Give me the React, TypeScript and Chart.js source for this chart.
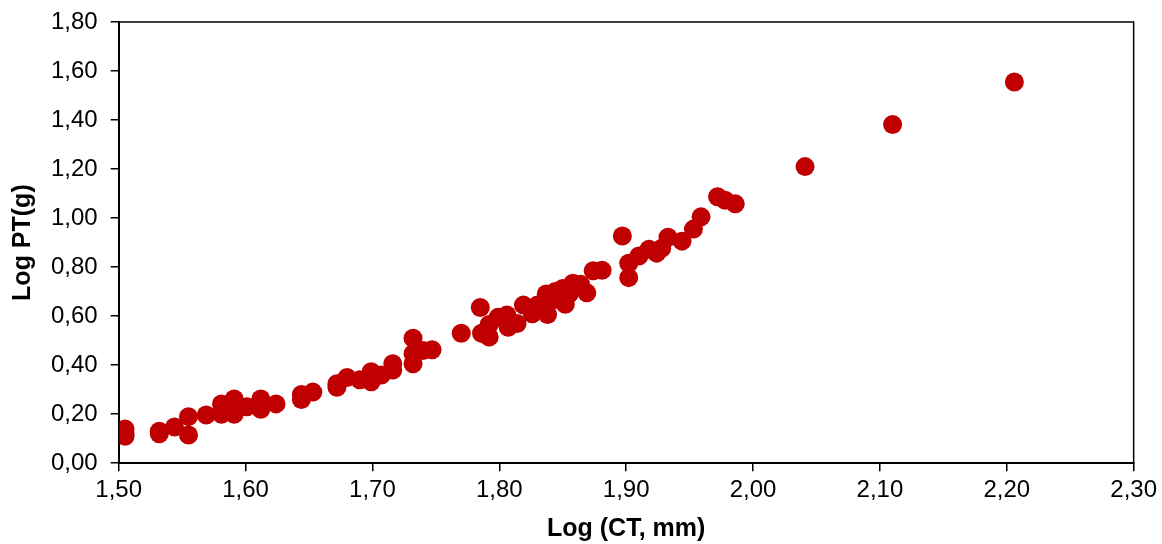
import React, { useEffect, useRef } from "react";
import { Chart, registerables } from "chart.js";

Chart.register(...registerables);

const ctValues: number[] = [
  1.505, 1.505, 1.505, 1.532, 1.532, 1.544, 1.555, 1.555, 1.569, 1.581,
  1.581, 1.591, 1.591, 1.591, 1.601, 1.612, 1.612, 1.624, 1.644, 1.644,
  1.653, 1.672, 1.672, 1.68, 1.69, 1.699, 1.699, 1.707, 1.716, 1.716,
  1.732, 1.732, 1.732, 1.74, 1.747, 1.77, 1.785, 1.786, 1.792, 1.792,
  1.799, 1.806, 1.807, 1.814, 1.819, 1.826, 1.83, 1.837, 1.838, 1.84,
  1.844, 1.846, 1.85, 1.852, 1.855, 1.858, 1.864, 1.869, 1.874, 1.881,
  1.897, 1.902, 1.902, 1.91, 1.918, 1.924, 1.928, 1.933, 1.944, 1.953,
  1.959, 1.972, 1.978, 1.986, 2.041, 2.11, 2.206,
];

const ptValues: number[] = [
  0.14, 0.12, 0.11, 0.13, 0.12, 0.148, 0.19, 0.115, 0.197, 0.242,
  0.2, 0.262, 0.2, 0.225, 0.23, 0.262, 0.22, 0.242, 0.26, 0.28,
  0.29, 0.324, 0.31, 0.35, 0.34, 0.373, 0.332, 0.36, 0.406, 0.38,
  0.51, 0.447, 0.406, 0.46, 0.463, 0.53, 0.635, 0.53, 0.515, 0.566,
  0.595, 0.605, 0.555, 0.57, 0.645, 0.61, 0.645, 0.69, 0.607, 0.66,
  0.7, 0.675, 0.713, 0.648, 0.69, 0.734, 0.73, 0.695, 0.785, 0.787,
  0.927, 0.816, 0.757, 0.845, 0.873, 0.857, 0.877, 0.922, 0.906, 0.955,
  1.005, 1.087, 1.073, 1.058, 1.21, 1.382, 1.555,
];

const xTicks: number[] = [1.5, 1.6, 1.7, 1.8, 1.9, 2.0, 2.1, 2.2, 2.3];
const yTicks: number[] = [0, 0.2, 0.4, 0.6, 0.8, 1.0, 1.2, 1.4, 1.6, 1.8];

const xTitle = "Log (CT, mm)";
const yTitle = "Log PT(g)";

const fmt = (v: number) => v.toFixed(2).replace(".", ",");

const framePlugin = {
  id: "frame",
  afterDatasetsDraw(chart: any) {
    const { ctx, chartArea } = chart;
    ctx.save();
    ctx.strokeStyle = "#000";
    ctx.lineWidth = 1.5;
    ctx.strokeRect(chartArea.left, chartArea.top, chartArea.right - chartArea.left, chartArea.bottom - chartArea.top);
    ctx.restore();
  },
};

export default function App() {
  const ref = useRef<HTMLCanvasElement>(null);

  useEffect(() => {
    if (!ref.current) return;
    const font = "'Liberation Sans', Arial, sans-serif";
    const chart = new Chart(ref.current, {
      type: "scatter",
      data: {
        datasets: [
          {
            data: ctValues.map((x, i) => ({ x, y: ptValues[i] })),
            backgroundColor: "#C00000",
            borderColor: "#C00000",
            pointRadius: 9.5,
            pointHoverRadius: 9.5,
            borderWidth: 0,
          },
        ],
      },
      options: {
        animation: false,
        responsive: false,
        maintainAspectRatio: false,
        layout: { padding: { top: 22, right: 6, left: 8, bottom: 0 } },
        plugins: {
          legend: { display: false },
          tooltip: { enabled: false },
        },
        scales: {
          x: {
            type: "linear",
            min: 1.5,
            max: 2.3,
            afterBuildTicks: (axis: any) => {
              axis.ticks = xTicks.map((v) => ({ value: v }));
            },
            ticks: {
              color: "#000",
              font: { family: font, size: 24 },
              padding: 5,
              callback: (v: any) => fmt(Number(v)),
              maxRotation: 0,
            },
            grid: {
              display: true,
              drawOnChartArea: false,
              drawTicks: true,
              tickLength: 8,
              color: "#000",
              lineWidth: 1.5,
            },
            border: { display: true, color: "#000", width: 2 },
            title: {
              display: true,
              text: xTitle,
              color: "#000",
              font: { family: font, size: 25, weight: "bold" },
              padding: { top: 4, bottom: 0 },
            },
          },
          y: {
            type: "linear",
            min: 0,
            max: 1.8,
            afterBuildTicks: (axis: any) => {
              axis.ticks = yTicks.map((v) => ({ value: v }));
            },
            afterFit: (axis: any) => {
              axis.paddingTop = 0;
            },
            ticks: {
              color: "#000",
              font: { family: font, size: 24 },
              padding: 13,
              callback: (v: any) => fmt(Number(v)),
            },
            grid: {
              display: true,
              drawOnChartArea: false,
              drawTicks: true,
              tickLength: 8,
              color: "#000",
              lineWidth: 1.5,
            },
            border: { display: true, color: "#000", width: 2 },
            title: {
              display: true,
              text: yTitle,
              color: "#000",
              font: { family: font, size: 25, weight: "bold" },
              padding: { top: 0, bottom: 0 },
            },
          },
        },
      },
      plugins: [framePlugin],
    });
    return () => chart.destroy();
  }, []);

  return (
    <div style={{ position: "absolute", left: 0, top: 0, width: 1162, height: 544, background: "#fff" }}>
      <canvas ref={ref} width={1162} height={544} style={{ display: "block" }} />
    </div>
  );
}
